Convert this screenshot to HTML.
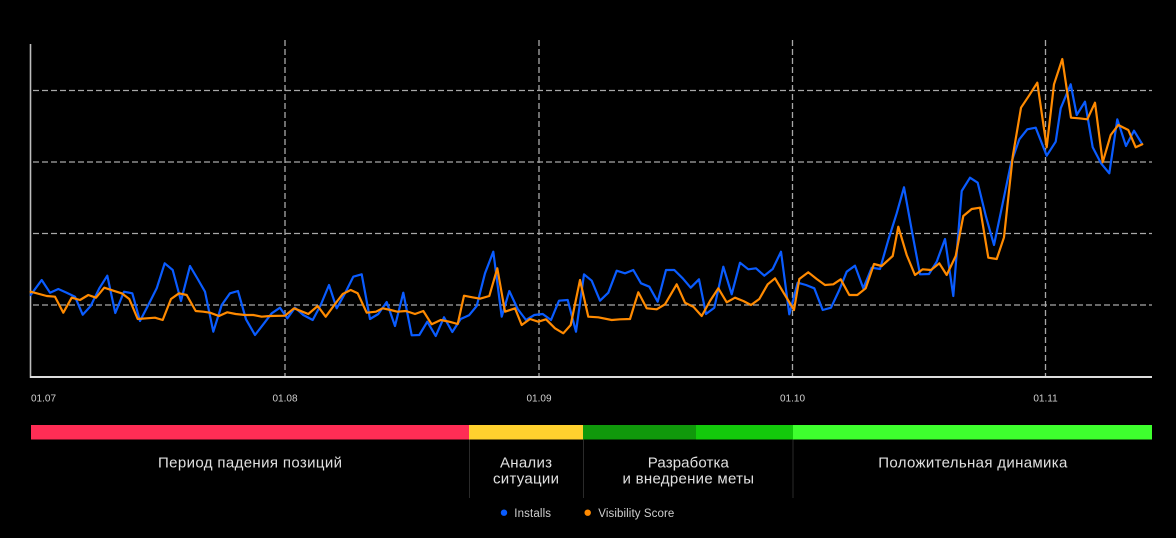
<!DOCTYPE html>
<html>
<head>
<meta charset="utf-8">
<style>
  html,body{margin:0;padding:0;background:#000;}
  body{width:1176px;height:538px;overflow:hidden;}
  svg{display:block;}
  .t{font-family:"Liberation Sans","Noto Sans CJK SC",sans-serif;}
</style>
</head>
<body>
<svg width="1176" height="538" viewBox="0 0 1176 538" xmlns="http://www.w3.org/2000/svg">
  <rect x="0" y="0" width="1176" height="538" fill="#000"/>

  <!-- horizontal dashed grid -->
  <g stroke="#a8a8a8" stroke-width="1.3" stroke-dasharray="6 3" fill="none">
    <line x1="33" y1="90.5" x2="1152" y2="90.5"/>
    <line x1="33" y1="162" x2="1152" y2="162"/>
    <line x1="33" y1="233.5" x2="1152" y2="233.5"/>
    <line x1="33" y1="305" x2="1152" y2="305"/>
  </g>
  <!-- vertical dashed grid -->
  <g stroke="#a8a8a8" stroke-width="1.3" stroke-dasharray="6 3" fill="none">
    <line x1="285" y1="40" x2="285" y2="376"/>
    <line x1="539" y1="40" x2="539" y2="376"/>
    <line x1="792.5" y1="40" x2="792.5" y2="376"/>
    <line x1="1045.5" y1="40" x2="1045.5" y2="376"/>
  </g>

  <!-- axes -->
  <line x1="30.5" y1="44" x2="30.5" y2="378" stroke="#bdbdbd" stroke-width="1.6"/>
  <line x1="30" y1="377" x2="1152" y2="377" stroke="#dcdcdc" stroke-width="2"/>

  <!-- x tick labels -->
  <g class="t" font-size="10" fill="#cfcfcf">
    <text x="31" y="401.5">01.07</text>
    <text x="285" y="401.5" text-anchor="middle">01.08</text>
    <text x="539" y="401.5" text-anchor="middle">01.09</text>
    <text x="792.5" y="401.5" text-anchor="middle">01.10</text>
    <text x="1045.5" y="401.5" text-anchor="middle">01.11</text>
  </g>

  <!-- Installs (blue) -->
  <polyline fill="none" stroke="#0a5cff" stroke-width="2.2" stroke-linejoin="round" stroke-linecap="round" points="
30.7,295 41.7,280 50,292.7 58.3,289 66.7,292.7 75,296.7 82.7,314.7 90.7,306 99.3,288.3 107.3,275.7 115.3,313 124,291.7 132.3,293.3 140,321 148.3,305 156.7,288.3 164.7,263.3 172.7,270 181,301 190,266 197.7,279 205,291.7 213.3,331.7 221.7,305 230,293.3 238,291 246,319.3 255,335 263.3,324.3 271.7,313.3 280,307.7 287.3,318.3 295,307.7
303.3,315 312.7,320 320.7,305 329,285 336.7,308.3 345,293.3 353.3,276.7 361.7,274.3 370,319 378.3,314 386.7,302 395,326 403.3,292.7 411.7,335.3 419.3,335 427.3,321.7 435.7,336 444,317.3 452.3,332 460.7,319 469,315.3 476.7,306 485,273.3 493.3,251.7 501.7,316.7 509.3,291 517.7,309 526,320 534.3,315 542.7,314 551,320 559,300.7 567.7,300 576,331.7 584,274.3
591.7,280.7 600,300.7 608.3,292.7 616.7,270.7 625,273.3 633.3,270 641,283.3 649.3,286.7 657.7,301.7 666,270 674.3,270 682.7,278.3 690.7,287.7 699,279.3 706,314 714.3,307.7 723.3,266.7 731.7,294.3 740,262.7 748.3,269.3 756,268.3 764.3,275.7 772.7,269 781,251.7 789.3,314.3 797.7,282.7 806,285 814.3,288.3 822.7,310 831,307.7 839.3,290 846.7,271.7 855,265.7 863.3,288.3
871.7,267.7 880,269 888.3,240 896.7,213.3 904,187.3 911.7,230 920,274.3 929,274 936.7,261.7 945,239 953.3,296 961.7,191 970,177.7 977.7,182.7 986,216.7 994,245 1002.7,203.3 1011,163.3 1019.3,139.3 1027.3,129.3 1035.7,127.7 1046.7,155.7 1055.7,141.7 1060.7,108.3 1070.7,84.3 1076.7,115 1085,101.7 1092.7,147.3 1101,163.3 1109.3,173.3 1117.3,119.3 1126,146 1134,130.7 1141.7,143.3"/>

  <!-- Visibility Score (orange) -->
  <polyline fill="none" stroke="#ff8a00" stroke-width="2.2" stroke-linejoin="round" stroke-linecap="round" points="
30.7,291.7 46.7,296 55,296.7 63.3,312.7 71.7,297.7 80,300 88.3,295 96,297.7 104.3,287.7 113.3,290.7 121.7,293.3 129.3,299 137.7,319 146.7,318.3 155,317.7 162.7,320 171,299 179,293.3 186.7,295 195.7,311 203.3,311.7 210,312.7 219,316 227.3,312.3 235.7,314 245,315 253.3,315 261.7,316.7 270,316 285,315.7 294,308.3
308.3,314 317.7,306 325.7,316.7 334.3,305 342.7,294 350.7,290 357.7,293.3 366.7,312.7 376,311.7 382.7,308.3 390.7,310 397.3,311.7 406,311 415,314 423.3,311 431.7,324.3 440.7,320 449.3,321.7 457.7,324 464,295.7 472.3,297.3 480,298.7 489.3,296 497.3,268.3 505,311.7 515,308.3 521.7,325 530,319 538.3,321.7 546,319.3 555,328.3 563.3,333.3 570.7,325 580,280 588.3,316.7
598.3,317.3 611.7,320 620,319.3 630,319 638.3,292.3 646.7,308.3 656.7,309.3 665,304.3 676.7,284.3 685,302.7 693.3,306.7 701.7,316 710,301 718.3,288.3 726.7,302.3 735,297.7 743.3,301 751,305 759.3,299 767.7,284.3 775,278.3 783.3,292.3 794,310 799.3,279 808.3,272.3 816.7,279 825,285 833.3,284.3 840.7,279.3 849.3,295 857.3,295 865.7,288.3
874,264 881.7,266 892.7,256 898.3,226.7 906.7,255 915,275 922.7,269.3 931,270 939.3,263.3 946.7,275 955.7,256 963.3,216 971.7,209 980,207.7 988.3,257.7 996.7,259 1004,237.3 1012.7,156.7 1021,107.7 1029,95.7 1037.3,82.7 1046.7,147.3 1054,84.3 1062.3,59 1071,117.7 1079,118.3 1087.3,119.3 1095,102.7 1102.7,162.3 1110.7,135 1118.3,125 1128.3,130 1135.7,147.3 1142.3,144.3"/>

  <!-- phase bars -->
  <rect x="31" y="425" width="438" height="14.5" fill="#ff2d55"/>
  <rect x="469" y="425" width="114" height="14.5" fill="#ffd12e"/>
  <rect x="583" y="425" width="113" height="14.5" fill="#10990b"/>
  <rect x="696" y="425" width="97" height="14.5" fill="#13c90b"/>
  <rect x="793" y="425" width="359" height="14.5" fill="#3eff2e"/>

  <!-- separators -->
  <g stroke="#2a2a2a" stroke-width="1">
    <line x1="469.5" y1="439.5" x2="469.5" y2="498"/>
    <line x1="583.5" y1="439.5" x2="583.5" y2="498"/>
    <line x1="793" y1="439.5" x2="793" y2="498"/>
  </g>

  <!-- phase labels -->
  <g class="t" font-size="15" fill="#e0e0e0" text-anchor="middle">
    <text x="250" y="467.3" textLength="184" lengthAdjust="spacing">Период падения позиций</text>
    <text x="526" y="467.3" textLength="52" lengthAdjust="spacing">Анализ</text>
    <text x="526" y="483.3" textLength="66" lengthAdjust="spacing">ситуации</text>
    <text x="688.3" y="467.3" textLength="81" lengthAdjust="spacing">Разработка</text>
    <text x="688.3" y="483.3" textLength="131.5" lengthAdjust="spacing">и внедрение меты</text>
    <text x="972.8" y="467.3" textLength="189" lengthAdjust="spacing">Положительная динамика</text>
  </g>

  <!-- legend -->
  <circle cx="504" cy="512.7" r="3.2" fill="#0a5cff"/>
  <circle cx="587.7" cy="512.7" r="3.2" fill="#ff8a00"/>
  <g class="t" font-size="11.5" fill="#cfcfcf">
    <text x="514.3" y="516.8" textLength="36.7" lengthAdjust="spacing">Installs</text>
    <text x="598.3" y="516.8" textLength="76" lengthAdjust="spacing">Visibility Score</text>
  </g>
</svg>
</body>
</html>
